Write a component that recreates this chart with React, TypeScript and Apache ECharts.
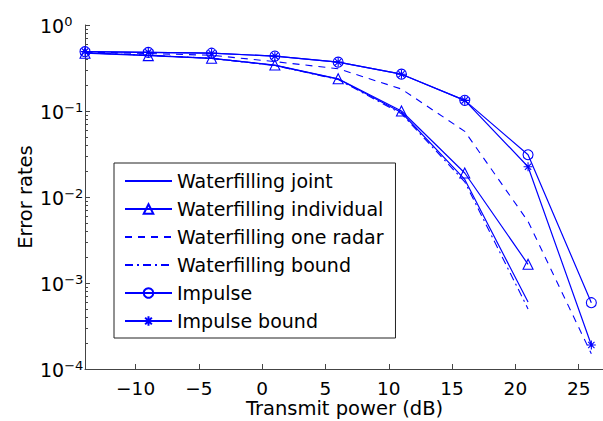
import React, { useEffect, useRef } from "react";
import * as echarts from "echarts";

const xValues = [-14, -9, -4, 1, 6, 11, 16, 21, 26];
const xTicks = [-10, -5, 0, 5, 10, 15, 20, 25];
const yMinorTicks = [
  2e-4, 3e-4, 4e-4, 5e-4, 6e-4, 7e-4, 8e-4, 9e-4,
  2e-3, 3e-3, 4e-3, 5e-3, 6e-3, 7e-3, 8e-3, 9e-3,
  2e-2, 3e-2, 4e-2, 5e-2, 6e-2, 7e-2, 8e-2, 9e-2,
  0.2, 0.3, 0.4, 0.5, 0.6, 0.7, 0.8, 0.9,
];

const seriesNames = [
  "Waterfilling joint",
  "Waterfilling individual",
  "Waterfilling one radar",
  "Waterfilling bound",
  "Impulse",
  "Impulse bound",
];

const waterfillingJoint = [0.475, 0.445, 0.41, 0.34, 0.235, 0.096, 0.016, 0.0006];
const waterfillingIndividual = [0.47, 0.44, 0.41, 0.342, 0.237, 0.1, 0.019, 0.00165];
const waterfillingOneRadar = [0.485, 0.465, 0.445, 0.375, 0.31, 0.18, 0.058, 0.0052, 0.00015];
const waterfillingBound = [0.475, 0.445, 0.41, 0.338, 0.232, 0.093, 0.015, 0.0005];
const impulse = [0.49, 0.48, 0.47, 0.435, 0.37, 0.268, 0.133, 0.031, 0.00059];
const impulseBound = [0.49, 0.48, 0.47, 0.435, 0.37, 0.268, 0.133, 0.0225, 0.00019];

const BLUE = "#0000ff";
const FONT = '"DejaVu Sans", sans-serif';
const AXIS = "#444";
const ASTERISK = "path://M5,0L5,10M0,5L10,5M1.5,1.5L8.5,8.5M1.5,8.5L8.5,1.5";

const pairs = (vals: number[]) => vals.map((v, i) => [xValues[i], v]);

const minus = (n: number) => (n < 0 ? "\u2212" + String(-n) : String(n));

export default function App() {
  const ref = useRef<HTMLDivElement>(null);
  useEffect(() => {
    if (!ref.current) return;
    const chart = echarts.init(ref.current, null, { renderer: "svg" });
    const line = (w = 1.2, type: any = "solid") => ({ color: BLUE, width: w, type });
    const noMarker = { color: "none", borderWidth: 0 };
    const openMarker = { color: "none", borderColor: BLUE, borderWidth: 1.1 };
    chart.setOption({
      animation: false,
      backgroundColor: "#fff",
      grid: { left: 85, top: 25, width: 519, height: 344, containLabel: false, outerBoundsMode: "none" },
      xAxis: {
        type: "value",
        min: -14,
        max: 27,
        name: "Transmit power (dB)",
        nameLocation: "middle",
        nameGap: 29,
        nameMoveOverlap: false,
        nameTextStyle: { fontFamily: FONT, fontSize: 19.5, color: "#000", lineHeight: 20 },
        axisLine: { show: true, onZero: false, lineStyle: { color: AXIS, width: 1 } },
        axisTick: { show: true, inside: true, length: 5, customValues: xTicks, lineStyle: { color: AXIS } },
        axisLabel: {
          customValues: xTicks,
          formatter: (v: number) => minus(v),
          fontFamily: FONT,
          fontSize: 18.5,
          color: "#000",
          lineHeight: 16,
          margin: 11,
        },
        splitLine: { show: false },
      },
      yAxis: [
        {
          type: "log",
          logBase: 10,
          min: 1e-4,
          max: 1,
          name: "Error rates",
          nameLocation: "middle",
          nameGap: 50,
          nameMoveOverlap: false,
          nameTextStyle: { fontFamily: FONT, fontSize: 19.5, color: "#000" },
          axisLine: { show: true, onZero: false, lineStyle: { color: AXIS, width: 1 } },
          axisTick: { show: true, inside: true, length: 5, lineStyle: { color: AXIS } },
          axisLabel: {
            margin: 45,
            align: "left",
            formatter: (v: number) => {
              const e = Math.round(Math.log10(v));
              return `{b|10}{s|${minus(e)}}`;
            },
            rich: {
              b: { fontFamily: FONT, fontSize: 19, color: "#000", lineHeight: 20, padding: [6, 0, 0, 0], verticalAlign: "bottom" },
              s: { fontFamily: FONT, fontSize: 13, color: "#000", lineHeight: 12, verticalAlign: "top" },
            },
          },
          splitLine: { show: false },
        },
        {
          type: "log",
          logBase: 10,
          min: 1e-4,
          max: 1,
          position: "left",
          axisLine: { show: false, onZero: false },
          axisTick: { show: true, inside: true, length: 3, customValues: yMinorTicks, lineStyle: { color: AXIS } },
          axisLabel: { show: false },
          splitLine: { show: false },
        },
      ],
      legend: {
        orient: "vertical",
        left: 114,
        top: 163,
        itemWidth: 47,
        itemHeight: 12,
        itemGap: 8,
        padding: [8, 12, 7, 10],
        borderColor: "#222",
        borderWidth: 1,
        borderRadius: 0,
        backgroundColor: "#fff",
        selectedMode: false,
        textStyle: { fontFamily: FONT, fontSize: 19, color: "#000", lineHeight: 20 },
        data: seriesNames,
      },
      series: [
        {
          name: seriesNames[0],
          type: "line",
          data: pairs(waterfillingJoint),
          symbol: "none",
          lineStyle: line(1.2),
          itemStyle: noMarker,
        },
        {
          name: seriesNames[1],
          type: "line",
          data: pairs(waterfillingIndividual),
          symbol: "triangle",
          symbolSize: 10,
          lineStyle: line(1.2),
          itemStyle: openMarker,
        },
        {
          name: seriesNames[2],
          type: "line",
          data: pairs(waterfillingOneRadar),
          symbol: "none",
          lineStyle: line(1.1, [7, 6]),
          itemStyle: noMarker,
        },
        {
          name: seriesNames[3],
          type: "line",
          data: pairs(waterfillingBound),
          symbol: "none",
          lineStyle: line(1.1, [8, 4, 2, 4]),
          itemStyle: noMarker,
        },
        {
          name: seriesNames[4],
          type: "line",
          data: pairs(impulse),
          symbol: "circle",
          symbolSize: 10,
          lineStyle: line(1.2),
          itemStyle: openMarker,
        },
        {
          name: seriesNames[5],
          type: "line",
          data: pairs(impulseBound),
          symbol: ASTERISK,
          symbolSize: 9,
          lineStyle: line(1.2),
          itemStyle: { color: "none", borderColor: BLUE, borderWidth: 1.1 },
        },
      ],
    });
    return () => chart.dispose();
  }, []);
  return (
    <div
      ref={ref}
      style={{ position: "absolute", left: 0, top: 0, width: 603, height: 421 }}
    />
  );
}
